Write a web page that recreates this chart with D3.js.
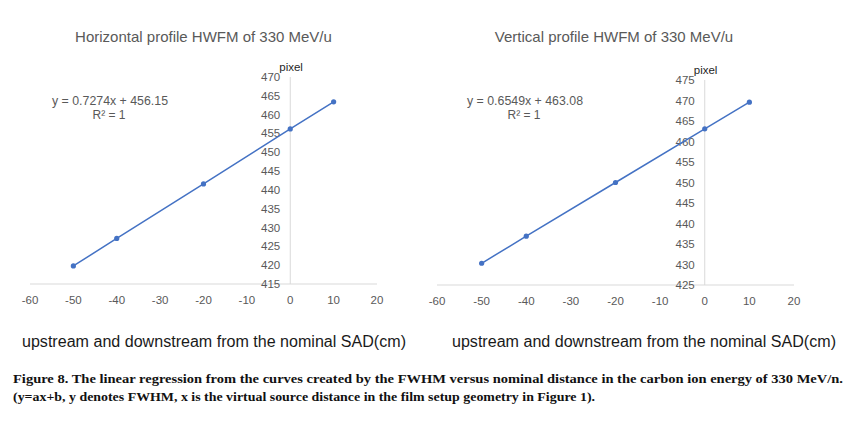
<!doctype html>
<html>
<head>
<meta charset="utf-8"/>
<title>HWFM linear regression</title>
<script src="https://d3js.org/d3.v7.min.js"></script>
<style>
body{margin:0;background:#fff;}
text{font-family:"Liberation Sans",Arial,sans-serif;}
text.cap{font-family:"Liberation Serif","Times New Roman",serif;font-weight:bold;}
</style>
</head>
<body>
<script>
// data
var distance = [-50, -40, -20, 0, 10];
var hwfmHoriz = [419.8, 427.1, 441.6, 456.2, 463.4];
var hwfmVert = [430.3, 436.9, 450.0, 463.1, 469.6];
var xTicks = [-60, -50, -40, -30, -20, -10, 0, 10, 20];
var yTicksHoriz = [415, 420, 425, 430, 435, 440, 445, 450, 455, 460, 465, 470];
var yTicksVert = [425, 430, 435, 440, 445, 450, 455, 460, 465, 470, 475];
var titles = ["Horizontal profile HWFM of 330 MeV/u", "Vertical profile HWFM of 330 MeV/u"];
var equations = ["y = 0.7274x + 456.15", "y = 0.6549x + 463.08"];
var xTitle = "upstream and downstream from the nominal SAD(cm)";
var caption1 = "Figure 8. The linear regression from the curves created by the FWHM versus nominal distance in the carbon ion energy of 330 MeV/n.";
var caption2 = "(y=ax+b, y denotes FWHM, x is the virtual source distance in the film setup geometry in Figure 1).";

var svg = d3.select("body").append("svg")
  .attr("width", 868).attr("height", 424);

var panels = [
  {vals: hwfmHoriz, ticks: yTicksHoriz, x0: 30, x1: 377, yb: 284, yt: 77, title: titles[0], eq: equations[0], tx: 203.5, ex: 110, xt: 214},
  {vals: hwfmVert, ticks: yTicksVert, x0: 437, x1: 794, yb: 285, yt: 80, title: titles[1], eq: equations[1], tx: 614, ex: 525, xt: 644}
];

panels.forEach(function(p){
  var x = d3.scaleLinear().domain([-60, 20]).range([p.x0, p.x1]);
  var y = d3.scaleLinear().domain([p.ticks[0], p.ticks[p.ticks.length-1]]).range([p.yb, p.yt]);
  var g = svg.append("g");

  // axis lines
  g.append("line").attr("x1", p.x0).attr("x2", p.x1).attr("y1", p.yb).attr("y2", p.yb)
    .attr("stroke", "#d9d9d9").attr("stroke-width", 1);
  g.append("line").attr("x1", x(0)).attr("x2", x(0)).attr("y1", p.yt).attr("y2", p.yb)
    .attr("stroke", "#d9d9d9").attr("stroke-width", 1);

  // tick labels
  g.selectAll(".xt").data(xTicks).enter().append("text")
    .attr("x", function(d){ return x(d); }).attr("y", p.yb + 20)
    .attr("text-anchor", "middle").attr("font-size", 11.5).attr("fill", "#595959")
    .text(function(d){ return d; });
  g.selectAll(".yt").data(p.ticks).enter().append("text")
    .attr("x", x(0) - 10).attr("y", function(d){ return y(d) + 4; })
    .attr("text-anchor", "end").attr("font-size", 11.5).attr("fill", "#595959")
    .text(function(d){ return d; });

  g.append("text").attr("x", x(0) - 11).attr("y", p.yt - 6)
    .attr("font-size", 11.5).attr("fill", "#1f1f1f").text("pixel");

  // line + markers
  var line = d3.line().x(function(d, i){ return x(distance[i]); }).y(function(d){ return y(d); });
  g.append("path").datum(p.vals).attr("d", line)
    .attr("fill", "none").attr("stroke", "#4472c4").attr("stroke-width", 1.5);
  g.selectAll(".pt").data(p.vals).enter().append("circle")
    .attr("cx", function(d, i){ return x(distance[i]); })
    .attr("cy", function(d){ return y(d); })
    .attr("r", 2.6).attr("fill", "#4472c4");

  // texts
  g.append("text").attr("x", p.tx).attr("y", 41.5).attr("text-anchor", "middle")
    .attr("font-size", 15).attr("fill", "#595959").text(p.title);
  g.append("text").attr("x", p.ex).attr("y", 105).attr("text-anchor", "middle")
    .attr("font-size", 12).attr("fill", "#595959")
    .attr("textLength", 116).attr("lengthAdjust", "spacingAndGlyphs").text(p.eq);
  g.append("text").attr("x", p.ex - 1).attr("y", 119).attr("text-anchor", "middle")
    .attr("font-size", 12).attr("fill", "#595959").text("R² = 1");
  g.append("text").attr("x", p.xt).attr("y", 346.5).attr("text-anchor", "middle")
    .attr("font-size", 16).attr("fill", "#1a1a1a")
    .attr("textLength", 384).attr("lengthAdjust", "spacingAndGlyphs").text(xTitle);
});

// caption
svg.append("text").attr("class", "cap").attr("x", 13).attr("y", 383)
  .attr("font-size", 13.5).attr("fill", "#111")
  .attr("textLength", 830).attr("lengthAdjust", "spacingAndGlyphs")
  .text(caption1);
svg.append("text").attr("class", "cap").attr("x", 13).attr("y", 401)
  .attr("font-size", 13.5).attr("fill", "#111")
  .attr("textLength", 582).attr("lengthAdjust", "spacingAndGlyphs")
  .text(caption2);
</script>
</body>
</html>
